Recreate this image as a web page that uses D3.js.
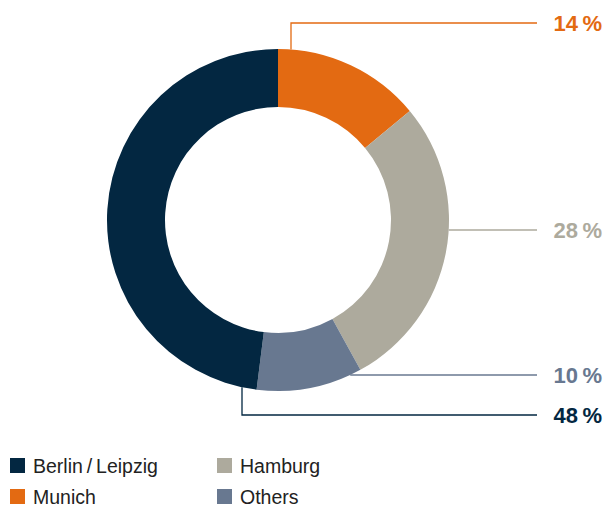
<!DOCTYPE html>
<html><head><meta charset="utf-8">
<script src="https://cdn.jsdelivr.net/npm/d3@7"></script>
<style>body{margin:0;background:#fff;}svg{display:block;}</style>
</head><body>
<svg id="c" width="606" height="507"></svg>
<script>
const categories = ["Munich", "Hamburg", "Others", "Berlin / Leipzig"];
const values = [14, 28, 10, 48];
const labels = ["14\u2009%", "28\u2009%", "10\u2009%", "48\u2009%"];
const colors = ["#E36A12", "#ADAA9D", "#687890", "#032741"];
const legendOrder = ["Berlin / Leipzig", "Hamburg", "Munich", "Others"];

const svg = d3.select("#c");
const cx = 278, cy = 220, R = 171, r = 113;
const g = svg.append("g").attr("transform", `translate(${cx},${cy})`);
const pie = d3.pie().sort(null).value(d => d)(values);
const arc = d3.arc().innerRadius(r).outerRadius(R);
g.selectAll("path").data(pie).join("path")
  .attr("d", arc).attr("fill", (d, i) => colors[i]);

// leader lines
const lineEnd = 537, textX = 602;
const leaders = [
  {type: "v", dx: 13, y: 23},
  {type: "h", y: 230},
  {type: "h", y: 375},
  {type: "v", dx: -36, y: 415}
];
leaders.forEach((L, i) => {
  let pts;
  if (L.type === "v") {
    const ay = (L.y < cy ? -1 : 1) * Math.sqrt(R * R - L.dx * L.dx) + cy;
    pts = [[cx + L.dx, ay], [cx + L.dx, L.y], [lineEnd, L.y]];
  } else {
    const ax = cx + Math.sqrt(R * R - (L.y - cy) * (L.y - cy));
    pts = [[ax, L.y], [lineEnd, L.y]];
  }
  svg.append("path").attr("d", d3.line()(pts)).attr("fill", "none")
    .attr("stroke", colors[i]).attr("stroke-width", 1.3);
  svg.append("text").attr("x", textX).attr("y", L.y + 8.3)
    .attr("text-anchor", "end").attr("fill", colors[i])
    .attr("font-family", "Liberation Sans, Arial, sans-serif")
    .attr("font-weight", "bold").attr("font-size", 22)
    .text(labels[i]);
});

// legend
const lg = svg.append("g");
legendOrder.forEach((name, k) => {
  const i = categories.indexOf(name);
  const col = k % 2, row = Math.floor(k / 2);
  const x = 10 + col * 207, y = 458 + row * 31;
  lg.append("rect").attr("x", x).attr("y", y).attr("width", 15).attr("height", 15).attr("fill", colors[i]);
  lg.append("text").attr("x", x + 23).attr("y", y + 14.5)
    .attr("font-family", "Liberation Sans, Arial, sans-serif")
    .attr("font-size", 19.5).attr("fill", "#222")
    .text(name.replace(" / ", "\u2009/\u2009"));
});
</script>
</body></html>
